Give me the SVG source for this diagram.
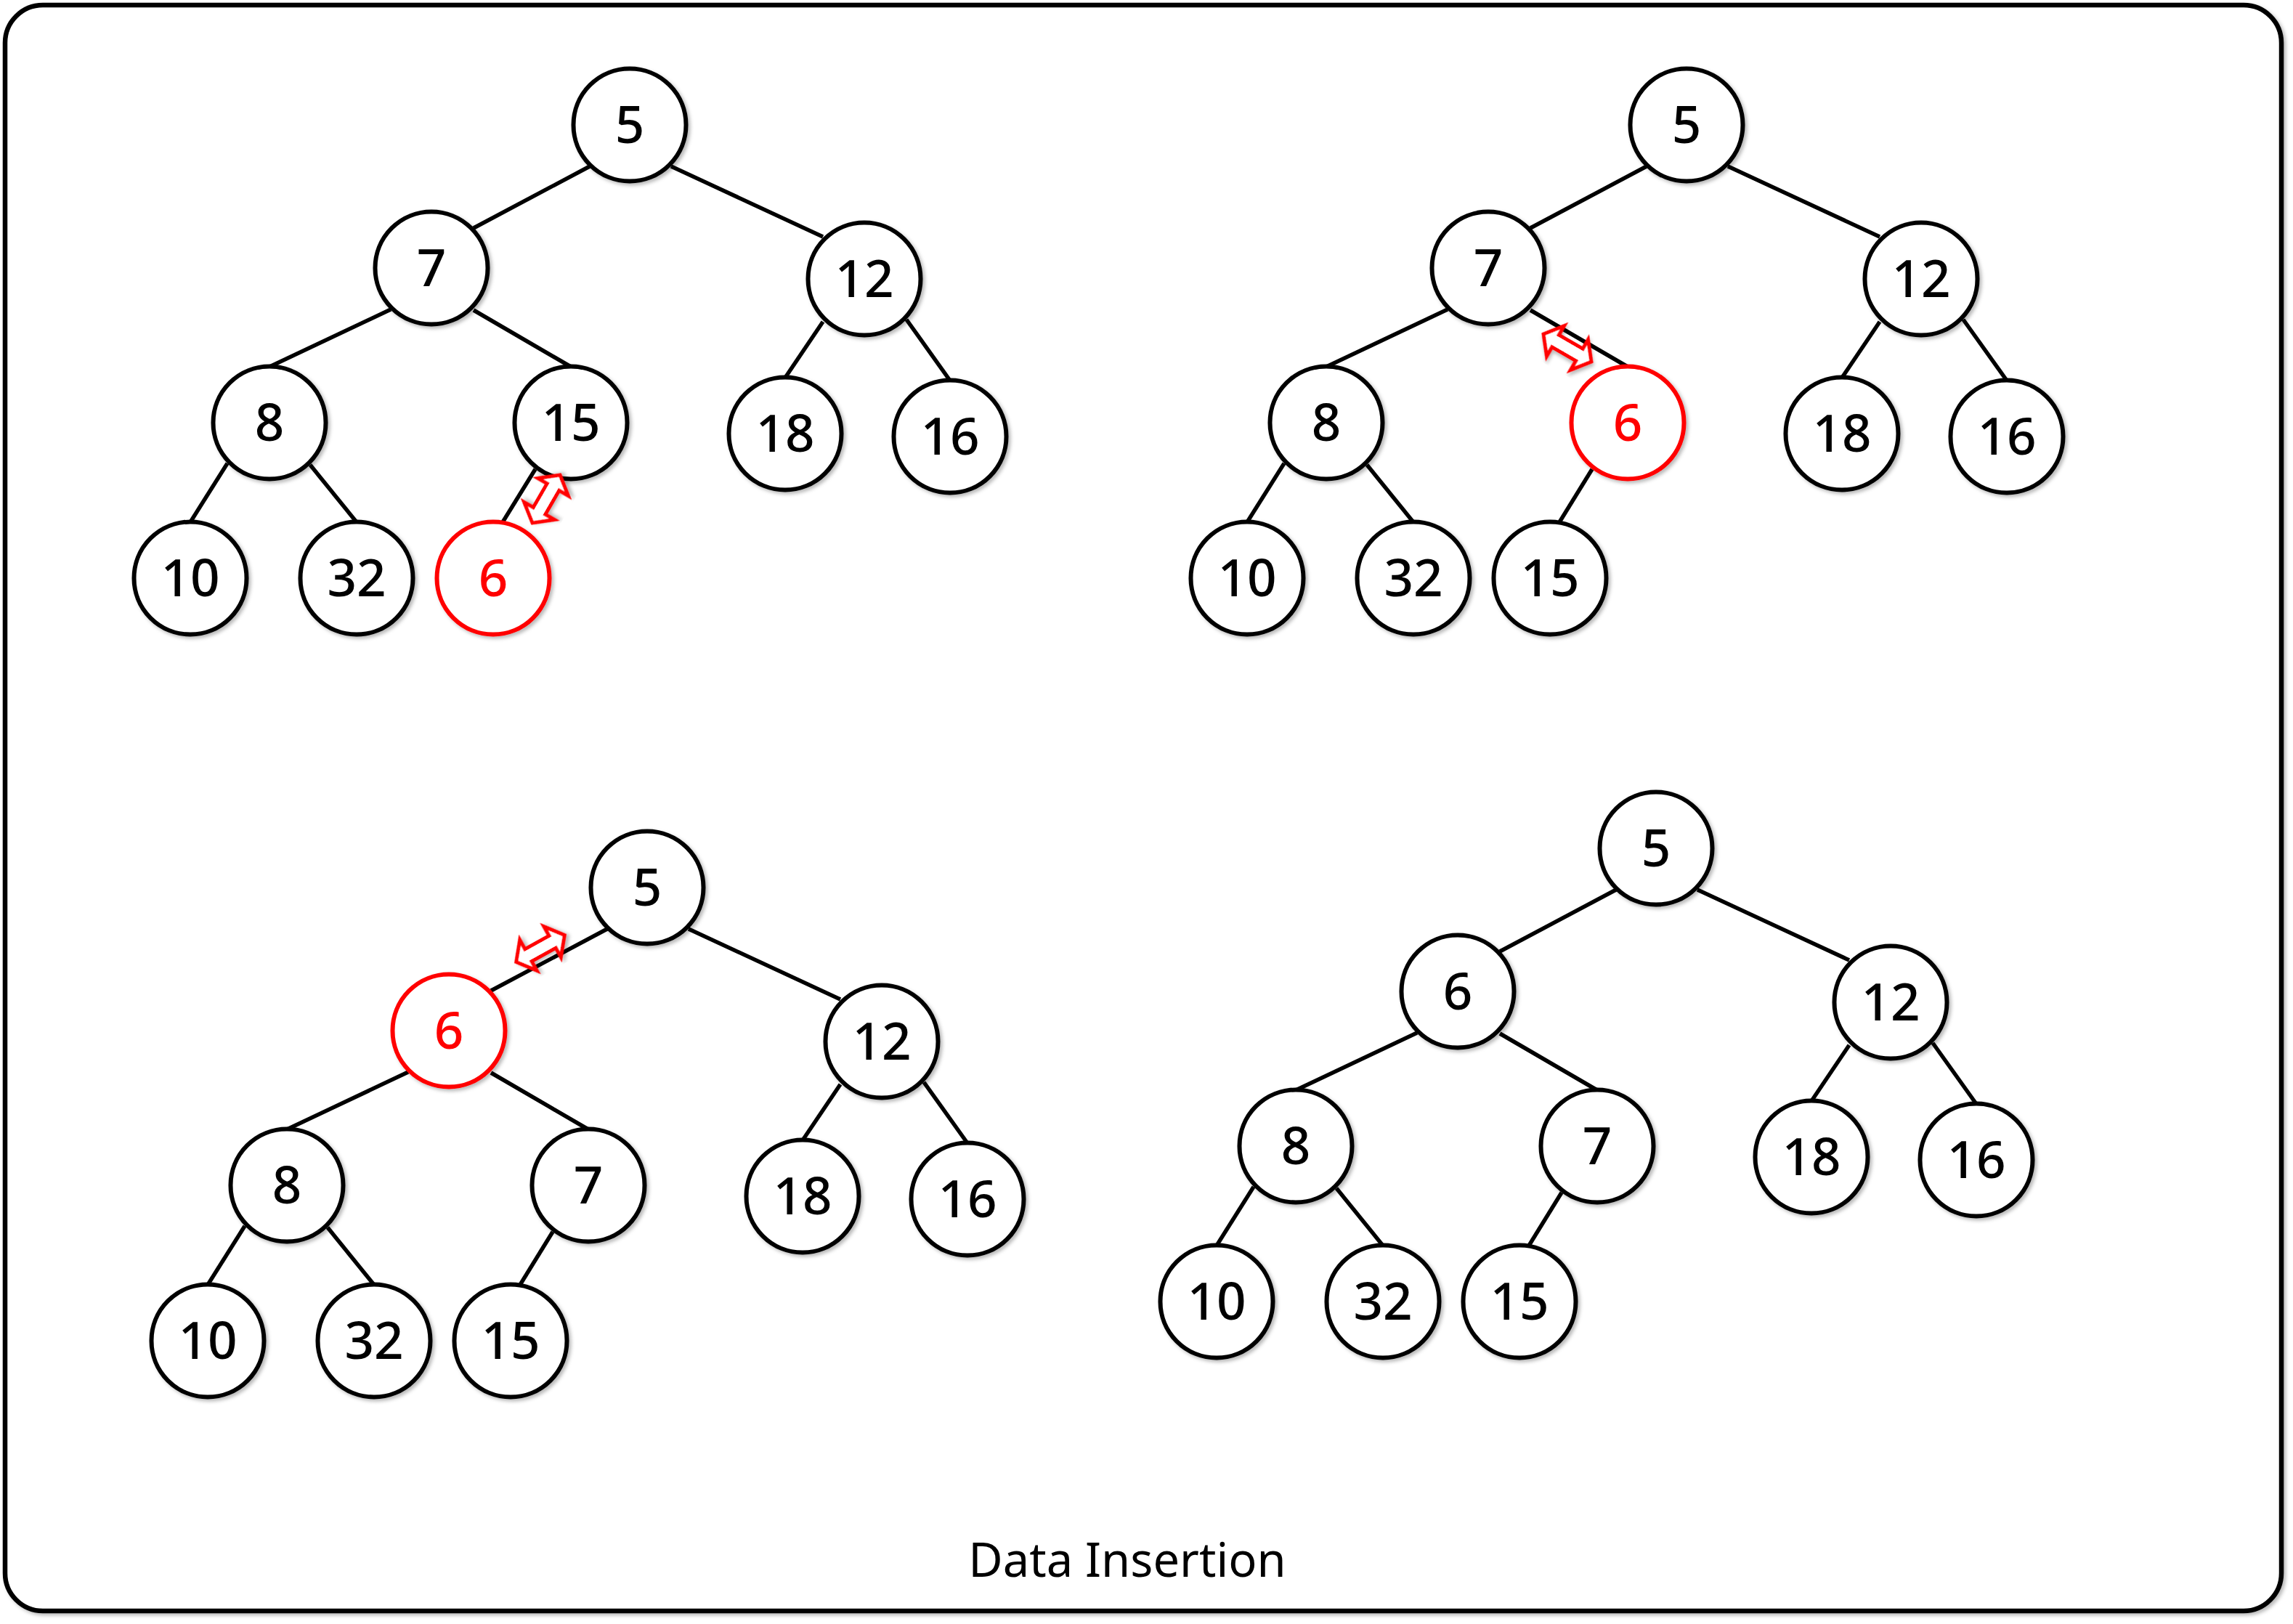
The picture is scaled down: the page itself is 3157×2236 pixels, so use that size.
<svg xmlns="http://www.w3.org/2000/svg" width="3157" height="2236" viewBox="0 0 3157 2236">
  <defs>
    <filter id="sh" x="-20%" y="-20%" width="140%" height="140%">
      <feDropShadow dx="3" dy="3" stdDeviation="2.5" flood-color="#000" flood-opacity="0.28"/>
    </filter>
    <filter id="shf" x="-2%" y="-2%" width="104%" height="104%">
      <feDropShadow dx="3" dy="3" stdDeviation="2.5" flood-color="#000" flood-opacity="0.28"/>
    </filter>
    <path id="dbl" d="M -38,0 L -19,-24 L -19,-9.5 L 19,-9.5 L 19,-24 L 38,0 L 19,24 L 19,9.5 L -19,9.5 L -19,24 Z"/>
  </defs>
  <style>
    .frame { fill: #fff; stroke: #000; stroke-width: 6.5; }
    .edge { stroke: #000; stroke-width: 5.5; fill: none; stroke-linecap: butt; }
    .node circle { fill: #fff; stroke: #000; stroke-width: 6; filter: url(#sh); }
    .node text { font-family: "Noto Sans", "Open Sans", sans-serif; font-size: 71px; font-weight: 500; fill: #000; text-anchor: middle; }
    .node.hot circle { stroke: #ff0000; }
    .node.hot text { fill: #ff0000; }
    .swap { fill: #fff; stroke: #ff0000; stroke-width: 5; stroke-linejoin: miter; filter: url(#sh); }
    .title { font-family: "Noto Sans", "Open Sans", sans-serif; font-size: 65px; fill: #000; text-anchor: middle; }
  </style>

  <rect class="frame" x="7" y="7" width="3134" height="2211" rx="52" ry="52" filter="url(#shf)"/>

  <g id="connectors">
    <g id="edges-t1">
      <line class="edge" x1="812" y1="229" x2="652" y2="314"/>
      <line class="edge" x1="924" y1="229" x2="1133" y2="326"/>
      <line class="edge" x1="538" y1="426" x2="371" y2="505"/>
      <line class="edge" x1="652" y1="427" x2="786" y2="505"/>
      <line class="edge" x1="1133" y1="443" x2="1081" y2="520"/>
      <line class="edge" x1="1248" y1="440" x2="1308" y2="524"/>
      <line class="edge" x1="313" y1="638" x2="262" y2="719"/>
      <line class="edge" x1="427" y1="640" x2="491" y2="719"/>
      <line class="edge" x1="737" y1="646" x2="692" y2="719"/>
    </g>
    <g id="edges-t2" transform="translate(1455,0)">
      <line class="edge" x1="812" y1="229" x2="652" y2="314"/>
      <line class="edge" x1="924" y1="229" x2="1133" y2="326"/>
      <line class="edge" x1="538" y1="426" x2="371" y2="505"/>
      <line class="edge" x1="652" y1="427" x2="786" y2="505"/>
      <line class="edge" x1="1133" y1="443" x2="1081" y2="520"/>
      <line class="edge" x1="1248" y1="440" x2="1308" y2="524"/>
      <line class="edge" x1="313" y1="638" x2="262" y2="719"/>
      <line class="edge" x1="427" y1="640" x2="491" y2="719"/>
      <line class="edge" x1="737" y1="646" x2="692" y2="719"/>
    </g>
    <g id="edges-t3" transform="translate(24,1050)">
      <line class="edge" x1="812" y1="229" x2="652" y2="314"/>
      <line class="edge" x1="924" y1="229" x2="1133" y2="326"/>
      <line class="edge" x1="538" y1="426" x2="371" y2="505"/>
      <line class="edge" x1="652" y1="427" x2="786" y2="505"/>
      <line class="edge" x1="1133" y1="443" x2="1081" y2="520"/>
      <line class="edge" x1="1248" y1="440" x2="1308" y2="524"/>
      <line class="edge" x1="313" y1="638" x2="262" y2="719"/>
      <line class="edge" x1="427" y1="640" x2="491" y2="719"/>
      <line class="edge" x1="737" y1="646" x2="692" y2="719"/>
    </g>
    <g id="edges-t4" transform="translate(1413,996)">
      <line class="edge" x1="812" y1="229" x2="652" y2="314"/>
      <line class="edge" x1="924" y1="229" x2="1133" y2="326"/>
      <line class="edge" x1="538" y1="426" x2="371" y2="505"/>
      <line class="edge" x1="652" y1="427" x2="786" y2="505"/>
      <line class="edge" x1="1133" y1="443" x2="1081" y2="520"/>
      <line class="edge" x1="1248" y1="440" x2="1308" y2="524"/>
      <line class="edge" x1="313" y1="638" x2="262" y2="719"/>
      <line class="edge" x1="427" y1="640" x2="491" y2="719"/>
      <line class="edge" x1="737" y1="646" x2="692" y2="719"/>
    </g>
  </g>

  <g id="tree1">
    <g id="t1-root" class="node"><circle cx="867" cy="172" r="77.5"/><text x="867" y="197">5</text></g>
    <g id="t1-l" class="node"><circle cx="594" cy="369" r="77.5"/><text x="594" y="394">7</text></g>
    <g id="t1-r" class="node"><circle cx="1190" cy="384" r="77.5"/><text x="1190" y="409">12</text></g>
    <g id="t1-ll" class="node"><circle cx="371" cy="582" r="77.5"/><text x="371" y="607">8</text></g>
    <g id="t1-lr" class="node"><circle cx="786" cy="582" r="77.5"/><text x="786" y="607">15</text></g>
    <g id="t1-rl" class="node"><circle cx="1081" cy="597" r="77.5"/><text x="1081" y="622">18</text></g>
    <g id="t1-rr" class="node"><circle cx="1308" cy="601" r="77.5"/><text x="1308" y="626">16</text></g>
    <g id="t1-lll" class="node"><circle cx="262" cy="796" r="77.5"/><text x="262" y="821">10</text></g>
    <g id="t1-llr" class="node"><circle cx="491" cy="796" r="77.5"/><text x="491" y="821">32</text></g>
    <g id="t1-lrl" class="node hot"><circle cx="679" cy="796" r="77.5"/><text x="679" y="821">6</text></g>
  </g>

  <g id="tree2" transform="translate(1455,0)">
    <g id="t2-root" class="node"><circle cx="867" cy="172" r="77.5"/><text x="867" y="197">5</text></g>
    <g id="t2-l" class="node"><circle cx="594" cy="369" r="77.5"/><text x="594" y="394">7</text></g>
    <g id="t2-r" class="node"><circle cx="1190" cy="384" r="77.5"/><text x="1190" y="409">12</text></g>
    <g id="t2-ll" class="node"><circle cx="371" cy="582" r="77.5"/><text x="371" y="607">8</text></g>
    <g id="t2-lr" class="node hot"><circle cx="786" cy="582" r="77.5"/><text x="786" y="607">6</text></g>
    <g id="t2-rl" class="node"><circle cx="1081" cy="597" r="77.5"/><text x="1081" y="622">18</text></g>
    <g id="t2-rr" class="node"><circle cx="1308" cy="601" r="77.5"/><text x="1308" y="626">16</text></g>
    <g id="t2-lll" class="node"><circle cx="262" cy="796" r="77.5"/><text x="262" y="821">10</text></g>
    <g id="t2-llr" class="node"><circle cx="491" cy="796" r="77.5"/><text x="491" y="821">32</text></g>
    <g id="t2-lrl" class="node"><circle cx="679" cy="796" r="77.5"/><text x="679" y="821">15</text></g>
  </g>

  <g id="tree3" transform="translate(24,1050)">
    <g id="t3-root" class="node"><circle cx="867" cy="172" r="77.5"/><text x="867" y="197">5</text></g>
    <g id="t3-l" class="node hot"><circle cx="594" cy="369" r="77.5"/><text x="594" y="394">6</text></g>
    <g id="t3-r" class="node"><circle cx="1190" cy="384" r="77.5"/><text x="1190" y="409">12</text></g>
    <g id="t3-ll" class="node"><circle cx="371" cy="582" r="77.5"/><text x="371" y="607">8</text></g>
    <g id="t3-lr" class="node"><circle cx="786" cy="582" r="77.5"/><text x="786" y="607">7</text></g>
    <g id="t3-rl" class="node"><circle cx="1081" cy="597" r="77.5"/><text x="1081" y="622">18</text></g>
    <g id="t3-rr" class="node"><circle cx="1308" cy="601" r="77.5"/><text x="1308" y="626">16</text></g>
    <g id="t3-lll" class="node"><circle cx="262" cy="796" r="77.5"/><text x="262" y="821">10</text></g>
    <g id="t3-llr" class="node"><circle cx="491" cy="796" r="77.5"/><text x="491" y="821">32</text></g>
    <g id="t3-lrl" class="node"><circle cx="679" cy="796" r="77.5"/><text x="679" y="821">15</text></g>
  </g>

  <g id="tree4" transform="translate(1413,996)">
    <g id="t4-root" class="node"><circle cx="867" cy="172" r="77.5"/><text x="867" y="197">5</text></g>
    <g id="t4-l" class="node"><circle cx="594" cy="369" r="77.5"/><text x="594" y="394">6</text></g>
    <g id="t4-r" class="node"><circle cx="1190" cy="384" r="77.5"/><text x="1190" y="409">12</text></g>
    <g id="t4-ll" class="node"><circle cx="371" cy="582" r="77.5"/><text x="371" y="607">8</text></g>
    <g id="t4-lr" class="node"><circle cx="786" cy="582" r="77.5"/><text x="786" y="607">7</text></g>
    <g id="t4-rl" class="node"><circle cx="1081" cy="597" r="77.5"/><text x="1081" y="622">18</text></g>
    <g id="t4-rr" class="node"><circle cx="1308" cy="601" r="77.5"/><text x="1308" y="626">16</text></g>
    <g id="t4-lll" class="node"><circle cx="262" cy="796" r="77.5"/><text x="262" y="821">10</text></g>
    <g id="t4-llr" class="node"><circle cx="491" cy="796" r="77.5"/><text x="491" y="821">32</text></g>
    <g id="t4-lrl" class="node"><circle cx="679" cy="796" r="77.5"/><text x="679" y="821">15</text></g>
  </g>

  <g id="swaps">
    <use class="swap" href="#dbl" transform="translate(752,687) rotate(-60)"/>
    <use class="swap" href="#dbl" transform="translate(2158,479) rotate(30)"/>
    <use class="swap" href="#dbl" transform="translate(744,1306) rotate(-29)"/>
  </g>

  <text id="title" class="title" x="1552" y="2171">Data Insertion</text>
</svg>
